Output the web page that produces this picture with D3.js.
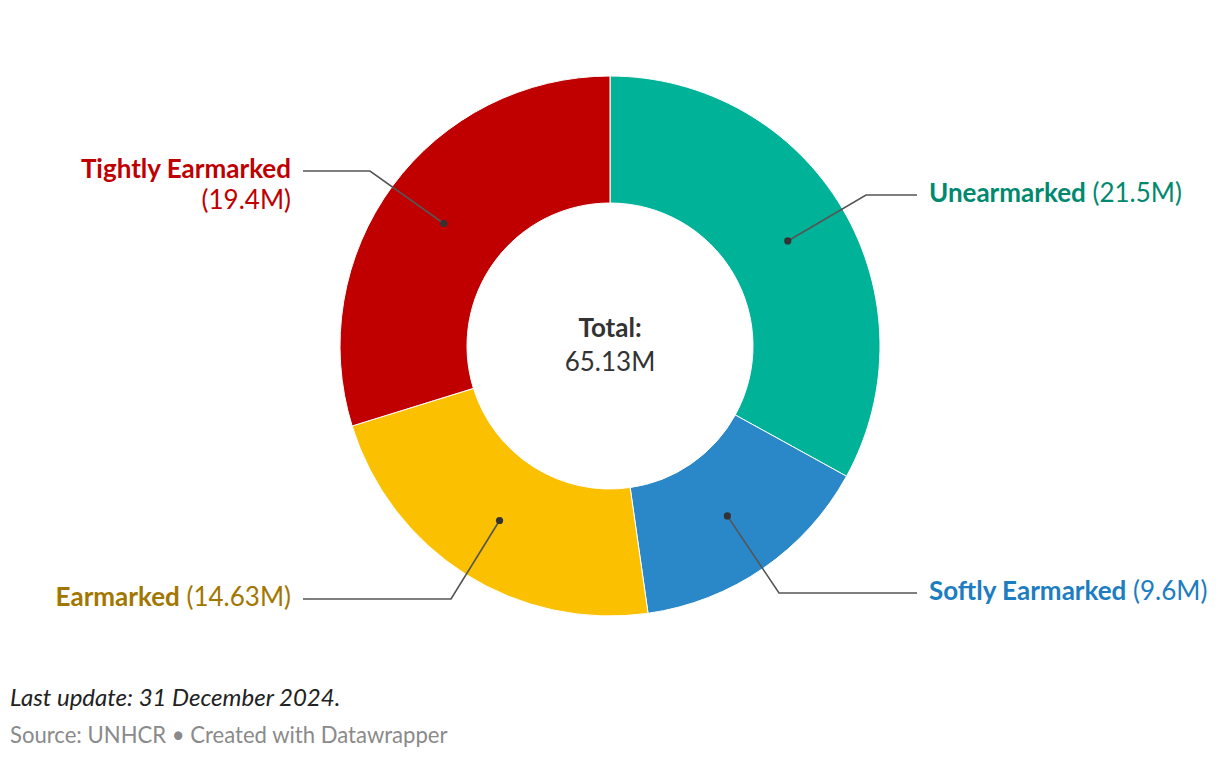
<!DOCTYPE html>
<html><head><meta charset="utf-8">
<script src="https://cdn.jsdelivr.net/npm/d3@7"></script>
<style>
html,body{margin:0;padding:0;background:#fff;}
svg{display:block;font-family:Lato,"Noto Sans",sans-serif;}
</style></head>
<body>
<svg id="chart" width="1220" height="760"></svg>
<script>
const categories = ["Unearmarked", "Softly Earmarked", "Earmarked", "Tightly Earmarked"];
const values = [21.5, 9.6, 14.63, 19.4];
const valueLabels = ["21.5M", "9.6M", "14.63M", "19.4M"];
const colors = ["#00B398", "#2A87C8", "#FBC000", "#C00000"];
const labelColors = ["#00896F", "#1C7DC0", "#A27700", "#C00000"];
const totalLabel = "65.13M";

const svg = d3.select("#chart");
const cx = 610, cy = 346, rOuter = 270, rInner = 143;
const g = svg.append("g").attr("transform", `translate(${cx},${cy})`);

const pie = d3.pie().sort(null).value(d => d)(values);
const arc = d3.arc().innerRadius(rInner).outerRadius(rOuter);

g.selectAll("path.slice").data(pie).join("path")
  .attr("class", "slice")
  .attr("d", arc)
  .attr("fill", (d, i) => colors[i])
  .attr("stroke", "#fff").attr("stroke-width", 1);

// label layout (positions relative to chart centre)
const layout = [
  {side: "right", y: -151, elbow: 866, twoLine: false},
  {side: "right", y: 247, elbow: 779, twoLine: false},
  {side: "left", y: 253, elbow: 451, twoLine: false},
  {side: "left", y: -175, elbow: 370, twoLine: true}
];
const textGapR = 929 - cx, lineEndR = 917 - cx;
const textGapL = 291 - cx, lineEndL = 303 - cx;
const FS = 26;

pie.forEach((d, i) => {
  const [px, py] = arc.centroid(d);
  const L = layout[i];
  const right = L.side === "right";
  const lineY = L.y;
  const elbowX = L.elbow - cx;
  const endX = right ? lineEndR : lineEndL;
  g.append("path")
    .attr("d", `M${px},${py}L${elbowX},${lineY}L${endX},${lineY}`)
    .attr("fill", "none").attr("stroke", "#555").attr("stroke-width", 1.6);
  g.append("circle").attr("cx", px).attr("cy", py).attr("r", 3.6).attr("fill", "#333");

  const tx = right ? textGapR : textGapL;
  const t = g.append("text")
    .attr("x", tx).attr("y", lineY + 7)
    .attr("text-anchor", right ? "start" : "end")
    .attr("fill", labelColors[i]).attr("font-size", FS);
  if (L.twoLine) {
    t.append("tspan").attr("font-weight", 700).text(categories[i]);
    g.append("text").attr("x", tx).attr("y", lineY + 38)
      .attr("text-anchor", "end").attr("fill", labelColors[i]).attr("font-size", FS)
      .text(`(${valueLabels[i]})`);
  } else {
    t.append("tspan").attr("font-weight", 700).text(categories[i]);
    t.append("tspan").text(` (${valueLabels[i]})`);
  }
});

g.append("text").attr("x", 0).attr("y", -9).attr("text-anchor", "middle")
  .attr("font-size", FS).attr("font-weight", 700).attr("fill", "#333").text("Total:");
g.append("text").attr("x", 0).attr("y", 25).attr("text-anchor", "middle")
  .attr("font-size", FS).attr("fill", "#333").text(totalLabel);

svg.append("text").attr("x", 10).attr("y", 706).attr("font-size", 24)
  .attr("font-style", "italic").attr("fill", "#222").text("Last update: 31 December 2024.");
svg.append("text").attr("x", 10).attr("y", 743).attr("font-size", 22.1)
  .attr("fill", "#8a8a8a").text("Source: UNHCR • Created with Datawrapper");
</script>
</body></html>
